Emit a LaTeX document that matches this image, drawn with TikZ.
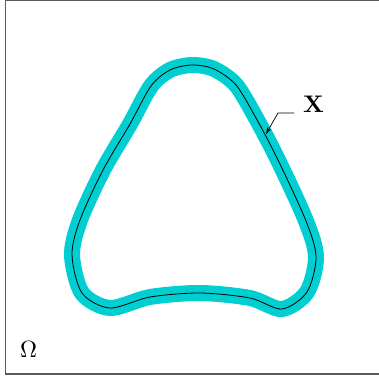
\documentclass[tikz,border=0pt]{standalone}
\usepackage{graphicx}
\usetikzlibrary{arrows.meta}
\definecolor{band}{RGB}{0,206,209}
\definecolor{frame}{RGB}{90,90,90}
\begin{document}
\begin{tikzpicture}[x=1pt,y=-1pt,
  bandline/.style={band,line width=16pt,line join=round},
  curveline/.style={black,line width=0.8pt},
  leader/.style={black,line width=0.7pt,-{Stealth[length=7pt,width=4.5pt]}},
  lbl/.style={inner sep=0pt}]
\useasboundingbox (0,0) rectangle (378,379);
\draw[frame,line width=1.3pt] (5.5,0) rectangle (385,374);
\def\shape{plot[smooth cycle,tension=0.5] coordinates {
 (192,65) (214,69) (236,85) (256,118) (278,160) (306,221) (316,257) (307,292)
 (282,309) (250,298) (200,293) (150,297) (110,308) (82,293) (72,255)
 (80,220) (103,170) (130,124) (151,86) (170,70)}}
\draw[bandline] \shape;
\draw[curveline] \shape;
\node[lbl,anchor=base west] (X) at (303,113) {\scalebox{2.4}{\textbf{X}}};
\node[lbl,anchor=base west] (Om) at (20,357) {\scalebox{2.35}{$\Omega$}};
\coordinate (lstart) at (294,113);
\coordinate (lbend) at (278,113);
\coordinate (tip) at (266,134);
\draw[leader] (lstart) -- (lbend) -- (tip);
\end{tikzpicture}
\end{document}
